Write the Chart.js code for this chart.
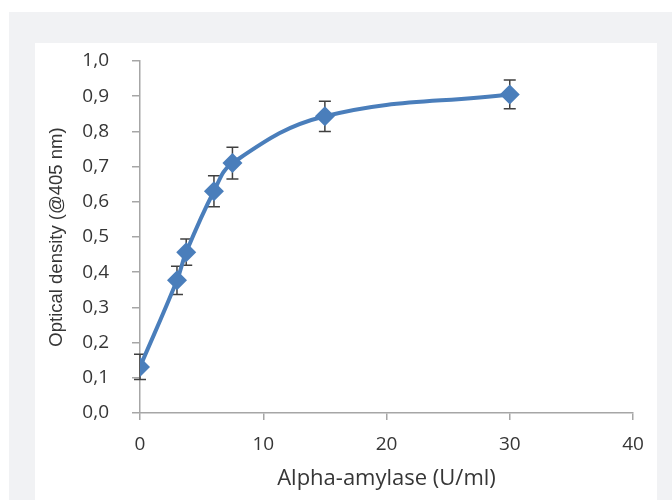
<!DOCTYPE html>
<html>
<head>
<meta charset="utf-8">
<script src="https://cdn.jsdelivr.net/npm/chart.js@4/dist/chart.umd.min.js"></script>
<style>
  html, body { margin: 0; padding: 0; background: #ffffff; }
  #frame { position: absolute; left: 9px; top: 12px; width: 663px; height: 488px; background: #f1f2f4; }
  #panel { position: absolute; left: 35px; top: 43px; width: 622px; height: 457px; background: #ffffff; }
  #wrap { position: absolute; left: 0; top: 0; width: 672px; height: 500px; }
</style>
</head>
<body>
<div id="frame"></div>
<div id="panel"></div>
<div id="wrap"><canvas id="chart" width="672" height="500"></canvas></div>
<script>
// amylase concentration (U/ml) vs optical density
const concentrations = [0, 3, 3.75, 6, 7.5, 15, 30];
const densities = [0.131, 0.377, 0.457, 0.630, 0.710, 0.843, 0.905];
const errors = [0.036, 0.040, 0.037, 0.044, 0.045, 0.043, 0.041];

const xTicks = [0, 10, 20, 30, 40];

const fontFamily = '"Open Sans", "Noto Sans", sans-serif';
const textColor = '#363636';
const axisColor = '#a6a6a6';

// error bars drawn behind the markers
const errorBars = {
  id: 'errorBars',
  beforeDatasetsDraw(chart) {
    const ctx = chart.ctx;
    const xs = chart.scales.x;
    const ys = chart.scales.y;
    ctx.save();
    ctx.strokeStyle = '#404040';
    ctx.lineWidth = 1.5;
    concentrations.forEach((c, i) => {
      const px = xs.getPixelForValue(c);
      const top = ys.getPixelForValue(densities[i] + errors[i]);
      const bottom = ys.getPixelForValue(densities[i] - errors[i]);
      ctx.beginPath();
      ctx.moveTo(px, top);
      ctx.lineTo(px, bottom);
      ctx.moveTo(px - 6, top);
      ctx.lineTo(px + 6, top);
      ctx.moveTo(px - 6, bottom);
      ctx.lineTo(px + 6, bottom);
      ctx.stroke();
    });
    ctx.restore();
  }
};

const ctx = document.getElementById('chart').getContext('2d');
new Chart(ctx, {
  type: 'scatter',
  data: {
    datasets: [{
      data: concentrations.map((c, i) => ({ x: c, y: densities[i] })),
      showLine: true,
      borderColor: '#4a7ebb',
      borderWidth: 4,
      tension: 0.4,
      pointStyle: 'rectRot',
      pointRadius: 10,
      pointBackgroundColor: '#4a7ebb',
      pointBorderColor: '#4a7ebb',
      pointBorderWidth: 0
    }]
  },
  options: {
    responsive: false,
    animation: false,
    events: [],
    layout: { padding: { left: 0, top: 61, right: 39, bottom: 0 } },
    plugins: { legend: { display: false }, tooltip: { enabled: false } },
    scales: {
      x: {
        type: 'linear',
        min: 0,
        max: 40,
        afterBuildTicks(scale) { scale.ticks = xTicks.map(v => ({ value: v })); },
        afterFit(scale) { scale.height = 87; },
        border: { color: axisColor, width: 1.5 },
        grid: { drawOnChartArea: false, color: axisColor, tickLength: 7, lineWidth: 1.5 },
        ticks: { color: textColor, font: { family: fontFamily, size: 19 }, padding: 13, maxRotation: 0 },
        title: {
          display: true, text: 'Alpha-amylase (U/ml)', color: textColor,
          font: { family: fontFamily, size: 22 }, padding: { top: 4, bottom: 8 }
        }
      },
      y: {
        min: 0,
        max: 1,
        afterFit(scale) { scale.width = 140; },
        border: { color: axisColor, width: 1.5 },
        grid: { drawOnChartArea: false, color: axisColor, tickLength: 8, lineWidth: 1.5 },
        ticks: {
          stepSize: 0.1,
          color: textColor,
          font: { family: fontFamily, size: 19 },
          padding: 23,
          callback: v => v.toFixed(1).replace('.', ',')
        },
        title: {
          display: true, text: 'Optical density (@405 nm)', color: textColor,
          font: { family: '"Liberation Sans", Arial, sans-serif', size: 18.5 }, padding: { top: 46, bottom: 0 }
        }
      }
    }
  },
  plugins: [errorBars]
});
</script>
</body>
</html>
